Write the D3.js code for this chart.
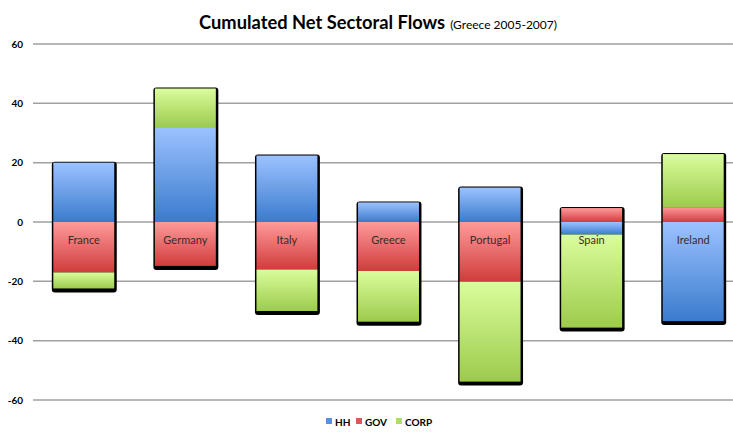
<!DOCTYPE html>
<html>
<head>
<meta charset="utf-8">
<title>Cumulated Net Sectoral Flows</title>
<script src="https://d3js.org/d3.v7.min.js"></script>
<style>
body { margin: 0; background: #fff; font-family: 'Lato', 'Open Sans', sans-serif; }
svg { display: block; }
</style>
</head>
<body>
<svg width="733" height="432"></svg>
<script>
// chart data
const countries = ["France", "Germany", "Italy", "Greece", "Portugal", "Spain", "Ireland"];
const hh   = [20, 32, 22.4, 6.6, 11.6, -4.2, -33.4];
const gov  = [-17, -14.8, -16, -16.5, -20.1, 4.7, 5];
const corp = [-5.4, 13, -14, -17.1, -33.7, -31.4, 17.9];
const series = ["HH", "GOV", "CORP"];
const yTicks = [60, 40, 20, 0, -20, -40, -60];

// colours: top / bottom of each gradient
const colors = {
	HH:   ["#9cc2ff", "#3a7bcd"],
	GOV:  ["#ff9a9a", "#d03c3c"],
	CORP: ["#dafd9c", "#9ccb4c"]
};
const legendColors = { HH: "#5b8fd9", GOV: "#e05555", CORP: "#b0dc6a" };

const svg = d3.select("svg");

// gradients
const defs = svg.append("defs");
series.forEach(function(s) {
	const g = defs.append("linearGradient")
		.attr("id", "grad-" + s)
		.attr("x1", 0).attr("y1", 0).attr("x2", 0).attr("y2", 1);
	g.append("stop").attr("offset", "0%").attr("stop-color", colors[s][0]);
	g.append("stop").attr("offset", "100%").attr("stop-color", colors[s][1]);
});

const x = d3.scaleBand()
	.domain(countries)
	.range([33, 744])
	.paddingInner(0.4)
	.paddingOuter(0.2);

const y = d3.scaleLinear()
	.domain([-60, 60])
	.range([400, 44]);

// title
const title = svg.append("text")
	.attr("x", 378)
	.attr("y", 29)
	.attr("text-anchor", "middle")
	.attr("fill", "#000");
title.append("tspan")
	.attr("font-size", "18.3px")
	.attr("font-weight", "bold")
	.text("Cumulated Net Sectoral Flows");
title.append("tspan")
	.attr("font-size", "12px")
	.attr("dx", 5)
	.text("(Greece 2005-2007)");

// gridlines + y labels
svg.append("g")
	.selectAll("line")
	.data(yTicks)
	.enter()
	.append("line")
	.attr("x1", 33)
	.attr("x2", 733)
	.attr("y1", function(d) { return y(d); })
	.attr("y2", function(d) { return y(d); })
	.attr("stroke", "#a0a0a0")
	.attr("stroke-width", 1.5);

svg.append("g")
	.selectAll("text")
	.data(yTicks)
	.enter()
	.append("text")
	.attr("x", 23)
	.attr("y", function(d) { return y(d); })
	.attr("dy", "0.35em")
	.attr("text-anchor", "end")
	.attr("font-size", "10px")
	.attr("font-weight", "bold")
	.attr("fill", "#000")
	.text(function(d) { return d; });

// stack the data (positive up, negative down)
const table = countries.map(function(c, i) {
	return { country: c, HH: hh[i], GOV: gov[i], CORP: corp[i] };
});
const stacked = d3.stack()
	.keys(series)
	.offset(d3.stackOffsetDiverging)(table);

// black frame / shadow behind each bar
const extents = table.map(function(d) {
	let top = 0, bottom = 0;
	series.forEach(function(s) {
		if (d[s] > 0) top += d[s]; else bottom += d[s];
	});
	return { country: d.country, top: top, bottom: bottom };
});

svg.append("g")
	.selectAll("rect")
	.data(extents)
	.enter()
	.append("rect")
	.attr("x", function(d) { return x(d.country) - 1.5; })
	.attr("y", function(d) { return y(d.top) - 1; })
	.attr("width", x.bandwidth() + 4)
	.attr("height", function(d) { return y(d.bottom) - y(d.top) + 5; })
	.attr("rx", 3)
	.attr("fill", "#000");

// segments
svg.append("g")
	.selectAll("g")
	.data(stacked)
	.enter()
	.append("g")
	.attr("fill", function(d) { return "url(#grad-" + d.key + ")"; })
	.selectAll("rect")
	.data(function(d) { return d; })
	.enter()
	.append("rect")
	.attr("x", function(d) { return x(d.data.country); })
	.attr("y", function(d) { return y(Math.max(d[0], d[1])); })
	.attr("width", x.bandwidth())
	.attr("height", function(d) { return Math.abs(y(d[0]) - y(d[1])); });

// category labels just under zero
svg.append("g")
	.selectAll("text")
	.data(countries)
	.enter()
	.append("text")
	.attr("x", function(d) { return x(d) + x.bandwidth() / 2; })
	.attr("y", 244)
	.attr("text-anchor", "middle")
	.attr("font-size", "11px")
	.attr("fill", "#3a2a2a")
	.text(function(d) { return d; });

// legend
const legend = svg.append("g");
const legendX = [326, 356, 396];
series.forEach(function(s, i) {
	legend.append("rect")
		.attr("x", legendX[i])
		.attr("y", 418)
		.attr("width", 6)
		.attr("height", 6)
		.attr("fill", legendColors[s]);
	legend.append("text")
		.attr("x", legendX[i] + 9)
		.attr("y", 425.5)
		.attr("font-size", "10px")
		.attr("font-weight", "bold")
		.attr("fill", "#000")
		.text(s);
});
</script>
</body>
</html>
